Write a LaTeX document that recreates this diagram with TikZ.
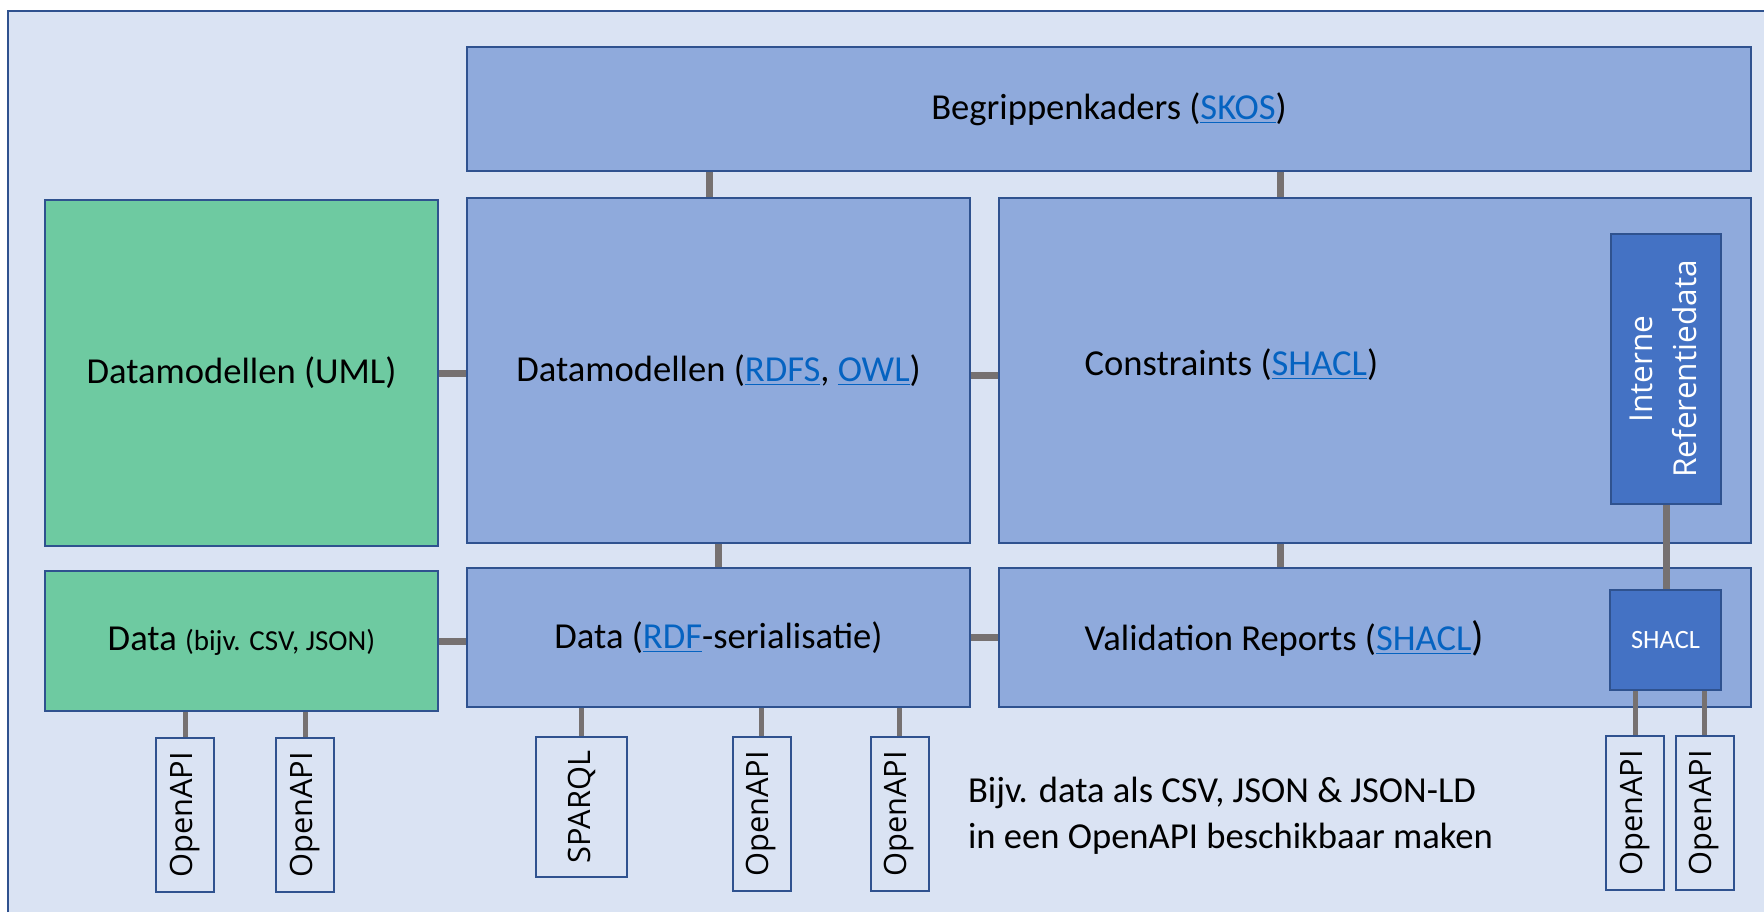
\documentclass[tikz,border=0pt]{standalone}
\usepackage{fontspec}
\setmainfont{Carlito}
\newfontfamily\uifont{Open Sans}
\usepackage{graphicx}
\usetikzlibrary{calc}

\definecolor{framefill}{RGB}{218,227,243}
\definecolor{frameline}{RGB}{47,82,143}
\definecolor{boxblue}{RGB}{143,170,220}
\definecolor{boxgreen}{RGB}{110,202,161}
\definecolor{boxdark}{RGB}{68,114,196}
\definecolor{linkgray}{RGB}{118,113,113}
\definecolor{linkblue}{RGB}{5,99,193}

\newcommand{\hlink}[1]{\textcolor{linkblue}{\underline{#1}}}
\newcommand{\bigtxt}{\fontsize{18.3}{23}\selectfont}
\newcommand{\apitxt}[1]{\rotatebox{90}{\uifont\fontsize{15.4}{18}\selectfont #1}}

\tikzset{every picture/.style={line width=1pt},
  box/.style={draw=frameline, line width=1pt, fill=boxblue, inner sep=0pt, font=\bigtxt},
  greenbox/.style={box, fill=boxgreen},
  darkbox/.style={box, fill=boxdark, text=white},
  apibox/.style={draw=frameline, line width=1pt, fill=framefill, inner sep=0pt, minimum width=29pt, minimum height=77pt},
  link/.style={draw=linkgray, line width=3.5pt},
  thinlink/.style={draw=linkgray, line width=2.5pt}
}

\begin{document}
\begin{tikzpicture}[x=0.5pt,y=0.5pt,yscale=-1,xscale=1]
\useasboundingbox (0,0) rectangle (1764,912);

%Shape: Rectangle (background)
\fill[white] (0,0) rectangle (1764,912);
\fill[framefill] (8,11) rectangle (1764,912);
\draw[frameline] (8,912) -- (8,11) -- (1764,11);

%Shape: Rectangle
\draw (1109,109) node [box, minimum width=642pt, minimum height=62pt] (begrip) {Begrippenkaders (\hlink{SKOS})};
%Shape: Rectangle
\draw (241.5,373) node [greenbox, minimum width=196.5pt, minimum height=173pt] (uml) {Datamodellen (UML)};
%Shape: Rectangle
\draw (718.5,370.5) node [box, minimum width=251.5pt, minimum height=172.5pt] (rdfs) {Datamodellen (\hlink{RDFS}, \hlink{OWL})};
%Shape: Rectangle
\draw (1375,370.5) node [box, minimum width=376pt, minimum height=172.5pt] (constraints) {};
%Shape: Rectangle
\draw (1666,369) node [darkbox, minimum width=55pt, minimum height=135pt] (interne) {\rotatebox{90}{\uifont\fontsize{15.8}{22}\selectfont\begin{tabular}{@{}c@{}}Interne\\Referentiedata\end{tabular}}};
%Shape: Rectangle
\draw (241.5,641) node [greenbox, minimum width=196.5pt, minimum height=70pt] (data) {Data {\fontsize{14.5}{17}\selectfont (bijv. CSV, JSON)}};
%Shape: Rectangle
\draw (718.5,637.5) node [box, minimum width=251.5pt, minimum height=69.5pt] (rdfdata) {Data (\hlink{RDF}-serialisatie)};
%Shape: Rectangle
\draw (1375,637.5) node [box, minimum width=376pt, minimum height=69.5pt] (validation) {};
%Shape: Rectangle
\draw (1665.5,640) node [darkbox, minimum width=55.5pt, minimum height=50pt, font=\fontsize{13.2}{16}\selectfont] (shacl) {SHACL};

%Shape: Rectangle
\draw (185,815) node [apibox] (api1) {\apitxt{OpenAPI}};
%Shape: Rectangle
\draw (305,815) node [apibox] (api2) {\apitxt{OpenAPI}};
%Shape: Rectangle
\draw (581.5,807) node [apibox, minimum width=45.5pt, minimum height=70pt] (sparql) {\apitxt{SPARQL}};
%Shape: Rectangle
\draw (761.5,814) node [apibox] (api3) {\apitxt{OpenAPI}};
%Shape: Rectangle
\draw (899.5,814) node [apibox] (api4) {\apitxt{OpenAPI}};
%Shape: Rectangle
\draw (1635,813) node [apibox] (api5) {\apitxt{OpenAPI}};
%Shape: Rectangle
\draw (1704.5,813) node [apibox] (api6) {\apitxt{OpenAPI}};

% Text Node
\draw (1077,375) node [anchor=base west, font=\bigtxt] (constrtxt) {Constraints (\hlink{SHACL})};
% Text Node
\draw (1077,650) node [anchor=base west, font=\bigtxt] (validtxt) {Validation Reports (\hlink{SHACL}{\fontsize{20.5}{23}\selectfont )}};
% Text Node
\draw (967,816) node [anchor=west, align=left, font=\bigtxt, inner sep=0pt] (toelichting) {Bijv. data als CSV, JSON \& JSON-LD\\in een OpenAPI beschikbaar maken};

%Straight Lines
\draw [link] ($(rdfs.north)+(-9.5,0)$) -- ($(rdfs.north |- begrip.south)+(-9.5,0)$);
%Straight Lines
\draw [link] ($(constraints.north)+(-95,0)$) -- ($(constraints.north |- begrip.south)+(-95,0)$);
%Straight Lines
\draw [link] (uml.east) -- (uml.east -| rdfs.west);
%Straight Lines
\draw [link] ($(rdfs.east)+(0,5)$) -- ($(rdfs.east -| constraints.west)+(0,5)$);
%Straight Lines
\draw [link] (rdfs.south) -- (rdfdata.north);
%Straight Lines
\draw [link] ($(constraints.south)+(-95,0)$) -- ($(constraints.south |- validation.north)+(-95,0)$);
%Straight Lines
\draw [link] (interne.south) -- (interne.south |- shacl.north);
%Straight Lines
\draw [link] (data.east) -- (data.east -| rdfdata.west);
%Straight Lines
\draw [link] (rdfdata.east) -- (rdfdata.east -| validation.west);

%Straight Lines
\draw [thinlink] (api1.north) -- (api1.north |- data.south);
\draw [thinlink] (api2.north) -- (api2.north |- data.south);
\draw [thinlink] (sparql.north) -- (sparql.north |- rdfdata.south);
\draw [thinlink] (api3.north) -- (api3.north |- rdfdata.south);
\draw [thinlink] (api4.north) -- (api4.north |- rdfdata.south);
\draw [thinlink] (api5.north) -- (api5.north |- shacl.south);
\draw [thinlink] (api6.north) -- (api6.north |- shacl.south);

\end{tikzpicture}
\end{document}
